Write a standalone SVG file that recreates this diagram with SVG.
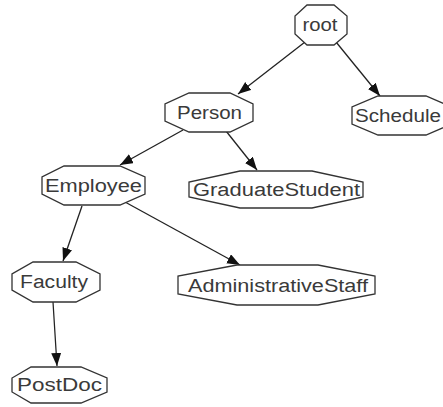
<svg xmlns="http://www.w3.org/2000/svg" width="443" height="407" viewBox="0 0 443 407">
<style>
.node polygon{fill:#fff;stroke:#333;stroke-width:1.3}
.node text{font-family:"Liberation Sans",Arial,sans-serif;font-size:18px;fill:#3a3a3a;text-anchor:middle}
.edge line{stroke:#222;stroke-width:1.3;marker-end:url(#arr)}
</style>
<defs>
<marker id="arr" markerUnits="userSpaceOnUse" markerWidth="15" markerHeight="12" refX="13" refY="5" orient="auto">
<path d="M0,0 L13,5 L0,10 z" fill="#111"/>
</marker>
</defs>
<rect width="443" height="407" fill="#fff"/>
<g id="edges" class="edge">
<line x1="305" y1="42" x2="238" y2="94"/>
<line x1="336" y1="42" x2="380" y2="96"/>
<line x1="226" y1="131" x2="257" y2="170"/>
<line x1="183" y1="130" x2="120" y2="165"/>
<line x1="82" y1="206" x2="63" y2="261"/>
<line x1="125" y1="202" x2="240" y2="265"/>
<line x1="53" y1="302" x2="57" y2="366"/>
</g>
<g id="root" class="node">
<polygon points="307,5 334,5 347,16 347,34 334,45 307,45 295,34 295,16"/>
<text x="320" y="31" textLength="35" lengthAdjust="spacingAndGlyphs">root</text>
</g>
<g id="Schedule" class="node">
<polygon points="378,96 426,96 452,107 452,124 426,135 378,135 352,124 352,107"/>
<text x="398" y="122" textLength="86" lengthAdjust="spacingAndGlyphs">Schedule</text>
</g>
<g id="Person" class="node">
<polygon points="189,93 230,93 253,104 253,121 230,132 189,132 165,121 165,104"/>
<text x="209.5" y="119" textLength="65" lengthAdjust="spacingAndGlyphs">Person</text>
</g>
<g id="Employee" class="node">
<polygon points="64,166 120,166 145,177 145,194 120,205 64,205 42,194 42,177"/>
<text x="93.5" y="192" textLength="97" lengthAdjust="spacingAndGlyphs">Employee</text>
</g>
<g id="GraduateStudent" class="node">
<polygon points="240,171 312,171 363,182 363,197 312,208 240,208 189,197 189,182"/>
<text x="276.5" y="196" textLength="167" lengthAdjust="spacingAndGlyphs">GraduateStudent</text>
</g>
<g id="Faculty" class="node">
<polygon points="33,262 76,262 100,274 100,290 76,302 33,302 12,290 12,274"/>
<text x="54" y="288" textLength="68" lengthAdjust="spacingAndGlyphs">Faculty</text>
</g>
<g id="AdministrativeStaff" class="node">
<polygon points="237,265 318,265 375,276 375,294 318,305 237,305 178,294 178,276"/>
<text x="278" y="292" textLength="180" lengthAdjust="spacingAndGlyphs">AdministrativeStaff</text>
</g>
<g id="PostDoc" class="node">
<polygon points="31,367 81,367 107,378 107,392 81,403 31,403 12,392 12,378"/>
<text x="59.5" y="391" textLength="85" lengthAdjust="spacingAndGlyphs">PostDoc</text>
</g>
</svg>
